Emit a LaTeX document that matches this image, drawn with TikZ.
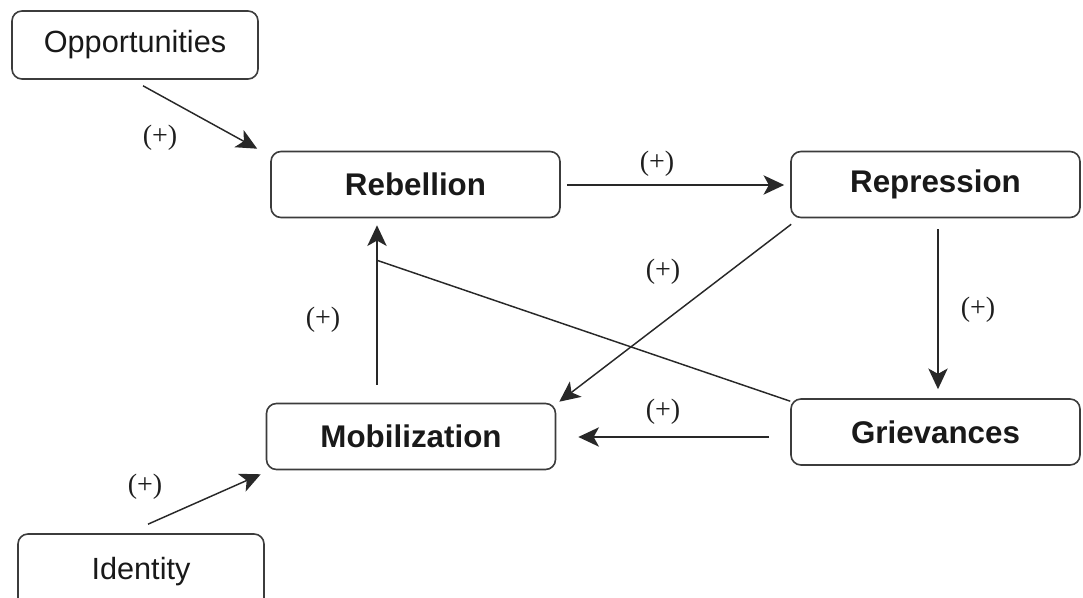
\documentclass[tikz,border=0pt]{standalone}
\usepackage{fontspec}
\setmainfont{Liberation Sans}
\newfontfamily\plusfont{Liberation Serif}
\usetikzlibrary{arrows.meta}

\tikzset{
  factor/.style={draw={rgb,255:red,60;green,60;blue,60}, line width=1.2pt, rounded corners=7.5pt,
    minimum width=216.75pt, minimum height=49.5pt, inner sep=0pt,
    text={rgb,255:red,25;green,25;blue,25}, font=\fontsize{23.5}{28}\selectfont\bfseries},
  source/.style={factor, minimum width=184.5pt, minimum height=51pt,
    font=\fontsize{23}{28}\selectfont},
  link/.style={draw={rgb,255:red,40;green,40;blue,40}, line width=1.1pt,
    -{Stealth[length=15.5pt,width=14.5pt,inset=4pt]}},
  sign/.style={inner sep=0pt, text={rgb,255:red,30;green,30;blue,30},
    font=\plusfont\fontsize{21}{25}\selectfont},
}

\begin{document}
\begin{tikzpicture}[x=0.75pt,y=-0.75pt]
\useasboundingbox (0,0) rectangle (1083,598);

%Boxes
\node [source] (opp) at (135,45) {Opportunities};
\node [factor] (reb) at (415.5,184.5) {Rebellion};
\node [factor] (rep) at (935.5,184.5) {Repression};
\node [factor] (mob) at (411,436.5) {Mobilization};
\node [factor] (griev) at (935.5,432) {Grievances};
\node [source, minimum height=57pt] (id) at (141,572) {Identity};

%Arrows
\draw [link] ([shift={(8,6)}]opp.south) -- ([shift={(-13,-2)}]reb.north west);
\draw [link] ([shift={(6,0.5)}]reb.east) -- ([shift={(-6,0.5)}]rep.west);
\draw [link] ([shift={(2.5,11)}]rep.south) -- ([shift={(2.5,-9)}]griev.north);
\draw [link] ([shift={(1,6)}]rep.south west) -- ([shift={(3,-1)}]mob.north east);
\draw [link] ([shift={(-21,5)}]griev.west) -- ([shift={(22,0.5)}]mob.east);
\draw [link] ([shift={(-34,-18)}]mob.north) -- ([shift={(-38.5,7)}]reb.south);
\draw [link] ([shift={(7,-9)}]id.north) -- ([shift={(-5,4)}]mob.south west);
%Straight Lines
\coordinate (meet) at ([shift={(-38.5,42)}]reb.south);
\draw [draw={rgb,255:red,40;green,40;blue,40}, line width=1.1pt] ([yshift=-2.25pt]griev.north west) -- (meet);

% Text Node
\node [sign] (s1) at (160,138) {(+)};
\node [sign] (s2) at (657,164) {(+)};
\node [sign] (s3) at (978,310) {(+)};
\node [sign] (s4) at (663,272) {(+)};
\node [sign] (s5) at (663,412) {(+)};
\node [sign] (s6) at (323,320) {(+)};
\node [sign] (s7) at (145,487) {(+)};

\end{tikzpicture}
\end{document}
